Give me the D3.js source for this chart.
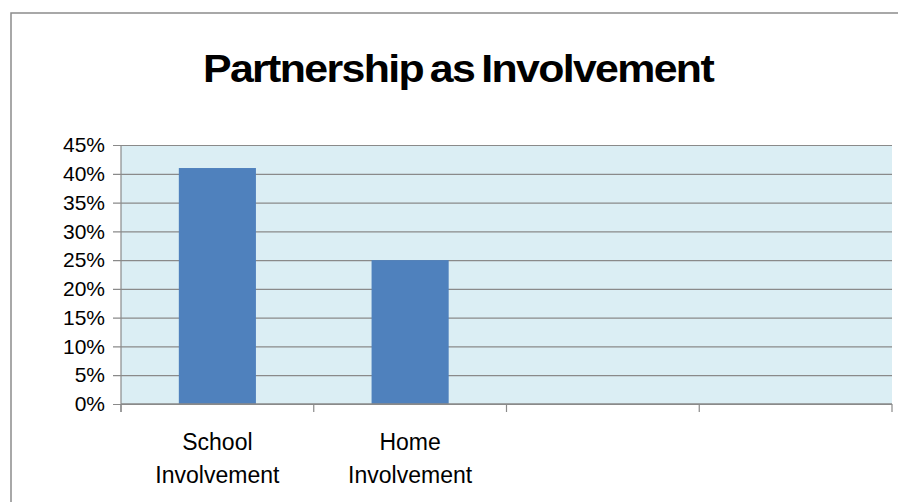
<!DOCTYPE html>
<html>
<head>
<meta charset="utf-8">
<script src="https://cdn.jsdelivr.net/npm/d3@7"></script>
<style>
  html, body { margin: 0; padding: 0; background: #fff; }
  svg { display: block; font-family: "Liberation Sans", Arial, sans-serif; }
</style>
</head>
<body>
<div id="chart"></div>
<script>
const title = "Partnership as Involvement";
const categories = ["School Involvement", "Home Involvement", "cat3", "cat4"];
const categoryLines = [["School", "Involvement"], ["Home", "Involvement"], [], []];
const values = [0.41, 0.25, null, null];
const yTickValues = [0, 0.05, 0.1, 0.15, 0.2, 0.25, 0.3, 0.35, 0.4, 0.45];

const width = 898;
const height = 502;
const margin = { top: 145, right: 6, bottom: 98, left: 121 };

const svg = d3.select("#chart")
  .append("svg")
  .attr("width", width)
  .attr("height", height);

// outer frame
svg.append("rect")
  .attr("x", 11)
  .attr("y", 13)
  .attr("width", width + 10)
  .attr("height", height + 10)
  .attr("fill", "#fff")
  .attr("stroke", "#8c8c8c")
  .attr("stroke-width", 1.5);

const xScale = d3.scaleBand()
  .domain(categories)
  .range([margin.left, width - margin.right])
  .paddingInner(0.6)
  .paddingOuter(0.3);

const yScale = d3.scaleLinear()
  .domain([0, 0.45])
  .range([height - margin.bottom, margin.top]);

const plotBottom = height - margin.bottom;
const plotRight = width - margin.right;
const step = xScale.step();
const bandStart = (c) => xScale(c) - xScale.paddingInner() * step / 2;

// plot background
svg.append("rect")
  .attr("x", margin.left)
  .attr("y", margin.top)
  .attr("width", plotRight - margin.left)
  .attr("height", plotBottom - margin.top)
  .attr("fill", "#dbeef4");

// gridlines + y axis
const yAxis = d3.axisLeft(yScale)
  .tickValues(yTickValues)
  .tickFormat(d3.format(".0%"))
  .tickSize(-(plotRight - margin.left))
  .tickPadding(0);

const yG = svg.append("g")
  .attr("transform", `translate(${margin.left},0)`)
  .call(yAxis);
yG.select(".domain").remove();
yG.selectAll(".tick line")
  .attr("x1", -8)
  .attr("stroke", "#8a8a8a")
  .attr("stroke-width", 1.2);
yG.selectAll(".tick text")
  .attr("x", -16)
  .attr("font-size", 21)
  .attr("font-family", "\"Liberation Sans\", Arial, sans-serif")
  .attr("fill", "#000");

svg.append("line")
  .attr("x1", margin.left)
  .attr("x2", margin.left)
  .attr("y1", margin.top)
  .attr("y2", plotBottom + 8)
  .attr("stroke", "#8a8a8a")
  .attr("stroke-width", 1.2);

// bars
svg.append("g")
  .selectAll("rect")
  .data(categories.map((c, i) => ({ c, v: values[i] })).filter((d) => d.v != null))
  .join("rect")
  .attr("x", (d) => xScale(d.c))
  .attr("y", (d) => yScale(d.v))
  .attr("width", xScale.bandwidth())
  .attr("height", (d) => plotBottom - yScale(d.v))
  .attr("fill", "#4f81bd");

// x axis
svg.append("line")
  .attr("x1", margin.left)
  .attr("x2", plotRight)
  .attr("y1", plotBottom)
  .attr("y2", plotBottom)
  .attr("stroke", "#8a8a8a")
  .attr("stroke-width", 1.5);

const tickXs = categories.map(bandStart).concat([plotRight]);
svg.append("g")
  .selectAll("line")
  .data(tickXs)
  .join("line")
  .attr("x1", (d) => d)
  .attr("x2", (d) => d)
  .attr("y1", plotBottom)
  .attr("y2", plotBottom + 8)
  .attr("stroke", "#8a8a8a")
  .attr("stroke-width", 1.2);

const labelG = svg.append("g");
categories.forEach((c, i) => {
  const t = labelG.append("text")
    .attr("x", xScale(c) + xScale.bandwidth() / 2)
    .attr("y", 450)
    .attr("text-anchor", "middle")
    .attr("font-size", 23)
    .attr("fill", "#000");
  categoryLines[i].forEach((line, j) => {
    t.append("tspan")
      .attr("x", xScale(c) + xScale.bandwidth() / 2)
      .attr("dy", j === 0 ? 0 : 33)
      .text(line);
  });
});

// title
svg.append("text")
  .attr("x", 458)
  .attr("y", 82)
  .attr("text-anchor", "middle")
  .attr("font-size", 39)
  .attr("font-weight", "bold")
  .attr("letter-spacing", -1.5)
  .attr("word-spacing", -3)
  .attr("textLength", 510)
  .attr("lengthAdjust", "spacingAndGlyphs")
  .attr("fill", "#000")
  .text(title);
</script>
</body>
</html>
